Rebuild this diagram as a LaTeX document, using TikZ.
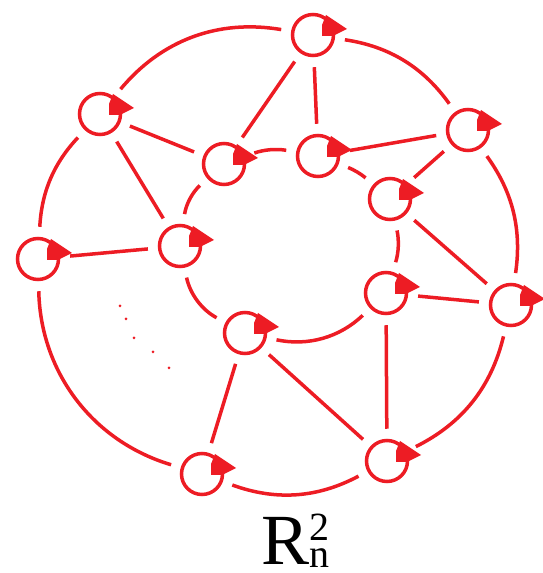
\documentclass[tikz,border=0pt]{standalone}
\usepackage{fontspec}
\setmainfont{Liberation Serif}
\usetikzlibrary{arrows.meta}
\definecolor{rd}{HTML}{ED1C24}

\tikzset{vtx/.style={circle,draw=rd,line width=3.5pt,minimum size=41pt,inner sep=0pt},
  edge/.style={draw=rd,line width=3.5pt,shorten >=10pt,shorten <=10pt}}

\begin{document}
\begin{tikzpicture}[x=1pt,y=1pt]
\useasboundingbox (0,0) rectangle (542,573);
% outer ring
\foreach \n/\x/\y in {o1/313/538,o2/468/443,o3/511/268,o4/387/112,o5/202/99,o6/38/314,o7/100/459}
 \node[vtx] (\n) at (\x,\y) {};
% inner ring
\foreach \n/\x/\y in {i1/224/409,i2/318/417,i3/390/374,i4/386/280,i5/245/240,i6/180/327}
 \node[vtx] (\n) at (\x,\y) {};
% loop arrowheads
\foreach \n in {o1,o2,o3,o4,o5,o6,o7,i1,i2,i3,i4,i5,i6}
 \fill[rd,shift={(\n)}] (9,-1)--(9,10)--(13,20)--(34,6)--(20,-1)--cycle;
% cycles
\draw[edge] (o1) to[bend left=23] (o2);
\draw[edge] (o2) to[bend left=22] (o3);
\draw[edge] (o3) to[bend left=25] (o4);
\draw[edge] (o4) to[bend left=24] (o5);
\draw[edge] (o5) to[bend left=36] (o6);
\draw[edge] (o6) to[bend left=20] (o7);
\draw[edge] (o7) to[bend left=30] (o1);
\draw[edge] (i1) to[bend left=15] (i2);
\draw[edge] (i2) to[bend left=10] (i3);
\draw[edge] (i3) to[bend left=15] (i4);
\draw[edge] (i4) to[bend left=28] (i5);
\draw[edge] (i5) to[bend left=25] (i6);
\draw[edge] (i6) to[bend left=20] (i1);
% spokes
\foreach \a/\b in {o7/i1,o7/i6,o1/i1,o1/i2,o6/i6,o2/i2,o2/i3,o3/i3,o3/i4,o4/i4,o4/i5,o5/i5}
 \draw[edge] (\a)--(\b);
% dots
\foreach \x/\y in {120/267,126/254,134/235,153/221,169/205}
 \fill[rd] (\x,\y) circle (1.5);
\node[anchor=base west,inner sep=0pt] (lbl) at (261,9)
 {\fontsize{72}{80}\selectfont R\fontsize{40}{44}\selectfont\rlap{\raisebox{24pt}{2}}\raisebox{-3pt}{n}};
\end{tikzpicture}
\end{document}
